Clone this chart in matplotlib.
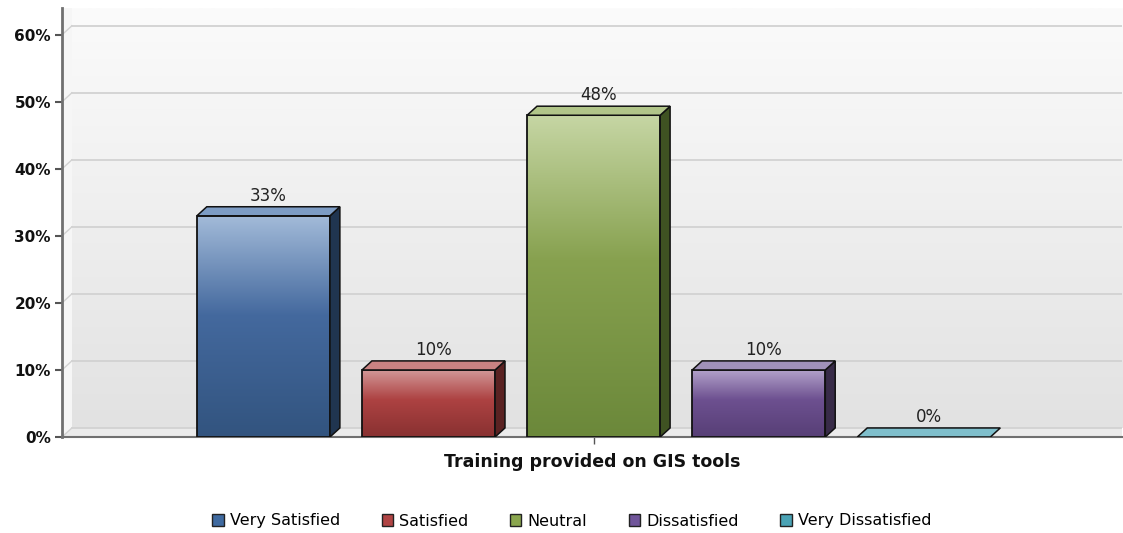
"""
Satisfaction survey: training provided on GIS tools.
3D-style bar chart with gradient fills.
"""

import numpy as np
import matplotlib.pyplot as plt
from matplotlib.patches import Rectangle, Polygon, Patch
from matplotlib.colors import LinearSegmentedColormap

# Data
categories = ["Very Satisfied", "Satisfied", "Neutral", "Dissatisfied", "Very Dissatisfied"]
values = [33, 10, 48, 10, 0]
value_labels = ["33%", "10%", "48%", "10%", "0%"]
y_ticks = [0, 10, 20, 30, 40, 50, 60]
x_title = "Training provided on GIS tools"

# colours: light top, base, dark bottom, side, top face, legend swatch
palette = [
    ("#a3bbd9", "#44699e", "#32547f", "#203550", "#7d9cc4", "#3f6aa0"),
    ("#d39a9a", "#ad4242", "#883131", "#5a2222", "#c98282", "#b04444"),
    ("#c6d6a4", "#87a14f", "#6b883a", "#3f5222", "#b1c589", "#8aa64e"),
    ("#b4a4cb", "#6d5090", "#573f76", "#382b48", "#a091b9", "#70559a"),
    ("#9fd0da", "#4a9fb0", "#3a8292", "#2b5a64", "#7fbfcc", "#4aa3b5"),
]

BAR_W = 0.806
DX, DY = 0.06, 1.35
XMIN, XMAX = -1.22, 5.2
YMAX = 64

fig = plt.figure(figsize=(11.23, 5.33), dpi=100)
ax = fig.add_axes([62 / 1123, 96 / 533, 1060 / 1123, 429 / 533])

# back wall gradient
wall = np.linspace(0, 1, 256).reshape(-1, 1)
wall_cmap = LinearSegmentedColormap.from_list("wall", ["#e2e2e2", "#fbfbfb"])
ax.imshow(wall, cmap=wall_cmap, origin="lower", aspect="auto",
          extent=[XMIN + DX, XMAX, DY, YMAX], zorder=0)
# left side wall and floor
ax.add_patch(Polygon([(XMIN, 0), (XMIN + DX, DY), (XMIN + DX, YMAX), (XMIN, YMAX)],
                     closed=True, facecolor="#f6f6f6", edgecolor="none", zorder=0.5))
ax.add_patch(Polygon([(XMIN, 0), (XMIN + DX, DY), (XMAX, DY), (XMAX, 0)],
                     closed=True, facecolor="#ebebeb", edgecolor="none", zorder=0.5))

# gridlines on the back wall
for t in y_ticks:
    ax.plot([XMIN + DX, XMAX], [t + DY, t + DY], color="#d2d2d2", lw=1.3, zorder=1)
    ax.plot([XMIN, XMIN + DX], [t, t + DY], color="#d2d2d2", lw=1.0, zorder=1)

# bars
for i, (v, cols) in enumerate(zip(values, palette)):
    light, base, dark, side, top, _ = cols
    x0 = i - BAR_W / 2
    x1 = i + BAR_W / 2
    if v > 0:
        front = Rectangle((x0, 0), BAR_W, v, facecolor="none", edgecolor="none", zorder=3)
        ax.add_patch(front)
        cmap = LinearSegmentedColormap.from_list("f%d" % i, [(0, dark), (0.55, base), (1, light)])
        grad = np.linspace(0, 1, 256).reshape(-1, 1)
        im = ax.imshow(grad, cmap=cmap, origin="lower", aspect="auto",
                       extent=[x0, x1, 0, v], zorder=3)
        im.set_clip_path(front)
        ax.add_patch(Rectangle((x0, 0), BAR_W, v, facecolor="none",
                               edgecolor="#111111", lw=1.3, zorder=4))
        ax.add_patch(Polygon([(x1, 0), (x1 + DX, DY), (x1 + DX, v + DY), (x1, v)],
                             closed=True, facecolor=side, edgecolor="#111111", lw=1.1, zorder=4))
    ax.add_patch(Polygon([(x0, v), (x0 + DX, v + DY), (x1 + DX, v + DY), (x1, v)],
                         closed=True, facecolor=top, edgecolor="#111111", lw=1.1, zorder=4))
    ax.text(i + DX / 2, v + DY + 0.3, value_labels[i], ha="center", va="bottom",
            fontsize=12, color="#222222", zorder=5)

ax.set_xlim(XMIN, XMAX)
ax.set_ylim(0, YMAX)
ax.set_yticks(y_ticks)
ax.set_yticklabels([f"{t}%" for t in y_ticks], fontsize=11, fontweight="bold", color="#111111")
ax.set_xticks([2])
ax.set_xticklabels([""])
ax.tick_params(axis="y", length=5, width=1.5, color="#555555", pad=3)
ax.tick_params(axis="x", length=5, width=1.0, color="#555555")
ax.set_xlabel(x_title, fontsize=12.5, fontweight="bold", color="#111111", labelpad=3)

for s in ["top", "right"]:
    ax.spines[s].set_visible(False)
ax.spines["left"].set_color("#707070")
ax.spines["left"].set_linewidth(2)
ax.spines["bottom"].set_color("#707070")
ax.spines["bottom"].set_linewidth(1.5)

handles = [Patch(facecolor=c[5], edgecolor="#222222", lw=1.0, label=n)
           for n, c in zip(categories, palette)]
fig.legend(handles=handles, loc="center", bbox_to_anchor=(572 / 1123, 1 - 521 / 533),
           ncol=5, frameon=False, fontsize=11.5, handlelength=0.7, handleheight=0.7,
           handletextpad=0.4, columnspacing=2.6)

plt.savefig("out.png", dpi=100)
plt.close()
